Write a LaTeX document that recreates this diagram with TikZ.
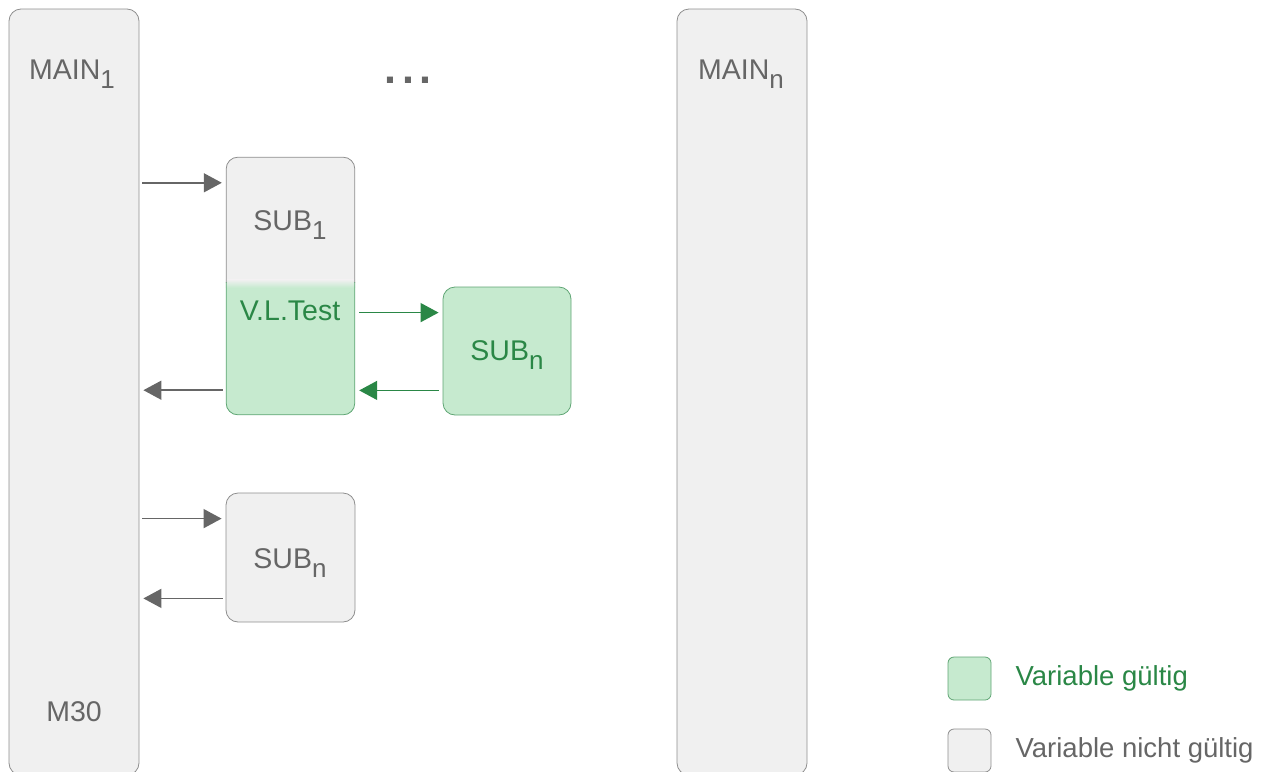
\documentclass[tikz,border=0pt]{standalone}
\usepackage{fontspec}
\setmainfont{Liberation Sans}
\usetikzlibrary{arrows.meta,positioning}
\definecolor{boxgray}{HTML}{F0F0F0}
\definecolor{linegray}{HTML}{8E8E8E}
\definecolor{textgray}{HTML}{666666}
\definecolor{okfill}{HTML}{C6EACF}
\definecolor{okgreen}{HTML}{2A8746}
\newcommand{\idx}[1]{\raisebox{-0.3em}{\fontsize{26}{26}\selectfont #1}}
\tikzset{
  box/.style={draw=linegray, fill=boxgray, rounded corners=12pt, line width=0.8pt, inner sep=0pt},
  okbox/.style={box, draw=okgreen!75, fill=okfill},
  lbl/.style={text=textgray, font=\fontsize{28.5}{33}\selectfont, inner sep=0pt},
  oklbl/.style={lbl, text=okgreen},
  leglbl/.style={lbl, font=\fontsize{27.5}{32}\selectfont},
  garrow/.style={draw=textgray, line width=1.5pt, shorten <=3pt, shorten >=4pt,
    -{Triangle[length=18pt,width=19pt]}},
  okarrow/.style={garrow, draw=okgreen, shorten <=4pt}
}
\begin{document}
\begin{tikzpicture}[x=1pt,y=-1pt]
\clip (0,0) rectangle (1268,771);
% main programs
\node[box, minimum width=130pt, minimum height=766pt] (main1) at (74,392) {};
\node[box, minimum width=130pt, minimum height=766pt] (mainn) at (742,392) {};
\node[lbl] (main1txt) at (72,74) {MAIN\idx{1}};
\node[lbl] (maintxt) at (741,74) {MAIN\idx{n}};
\node[lbl] (m30) at (74,712) {M30};
\node[text=textgray, inner sep=0pt, font=\fontsize{43}{43}\selectfont\bfseries] (dots) at (408,80) {.\kern6pt.\kern6pt.};
% first sub with valid part
\node[minimum width=129pt, minimum height=258pt, inner sep=0pt] (sub1) at (290.5,286) {};
\begin{scope}
  \clip[rounded corners=12pt] (sub1.north west) rectangle (sub1.south east);
  \fill[boxgray] (sub1.north west) rectangle ([yshift=-123pt]sub1.north east);
  \shade[top color=boxgray, bottom color=okfill] ([yshift=-123pt]sub1.north west) rectangle ([yshift=-131pt]sub1.north east);
  \fill[okfill] ([yshift=-131pt]sub1.north west) rectangle (sub1.south east);
  \begin{scope}
    \clip (sub1.north west) rectangle ([yshift=-126pt]sub1.north east);
    \draw[linegray, line width=1.6pt, rounded corners=12pt] (sub1.north west) rectangle (sub1.south east);
  \end{scope}
  \clip ([yshift=-126pt]sub1.north west) rectangle (sub1.south east);
  \draw[okgreen!75, line width=1.6pt, rounded corners=12pt] (sub1.north west) rectangle (sub1.south east);
\end{scope}
\node[lbl] (sub1txt) at (290,225) {SUB\idx{1}};
\node[oklbl] (vltest) at (290,311) {V.L.Test};
% nested sub
\node[okbox, minimum width=128pt, minimum height=128pt] (subok) at (507,351) {};
\node[oklbl] (suboktxt) at (507,355) {SUB\idx{n}};
% second sub
\node[box, minimum width=129pt, minimum height=129pt] (sub2) at (290.5,557.5) {};
\node[lbl] (sub2txt) at (290,563) {SUB\idx{n}};
% calls and returns
\coordinate (in1) at ([yshift=-26pt]sub1.north west);
\coordinate (out1) at ([yshift=25pt]sub1.south west);
\coordinate (in2) at ([yshift=-26pt]sub2.north west);
\coordinate (out2) at ([yshift=24pt]sub2.south west);
\coordinate (inok) at ([yshift=-26pt]subok.north west);
\coordinate (outok) at ([yshift=25pt]subok.south west);
\draw[garrow] (main1.east |- in1) -- (in1);
\draw[garrow] (out1) -- (main1.east |- out1);
\draw[garrow] (main1.east |- in2) -- (in2);
\draw[garrow] (out2) -- (main1.east |- out2);
\draw[okarrow] (sub1.east |- inok) -- (inok);
\draw[okarrow] (outok) -- (sub1.east |- outok);
% legend
\node[okbox, minimum size=43pt, rounded corners=6pt] (legok) at (969.5,678.5) {};
\node[leglbl, text=okgreen, right=24pt of legok] (legoktxt) {Variable gültig};
\node[box, minimum size=43pt, rounded corners=6pt] (legno) at (969.5,750.5) {};
\node[leglbl, right=24pt of legno] (legnotxt) {Variable nicht gültig};
\end{tikzpicture}
\end{document}
